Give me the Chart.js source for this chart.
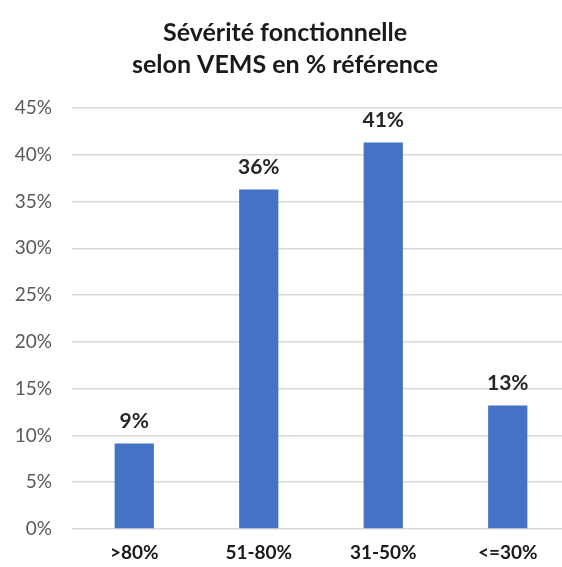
<!DOCTYPE html>
<html>
<head>
<meta charset="utf-8">
<script src="https://cdn.jsdelivr.net/npm/chart.js@4/dist/chart.umd.min.js"></script>
<style>
  html, body { margin: 0; padding: 0; background: #fff; overflow: hidden; }
  #wrap { width: 572px; height: 567px; }
</style>
</head>
<body>
<div id="wrap"><canvas id="grafico"></canvas></div>
<script>
const categorias = [">80%", "51-80%", "31-50%", "<=30%"];
const valores = [9.15, 36.3, 41.3, 13.2];
const etiquetas = ["9%", "36%", "41%", "13%"];
const titulo = ["Sévérité fonctionnelle", "selon VEMS en % référence"];

const fuente = "Lato, 'Liberation Sans', sans-serif";

// etiquetas encima de cada barra
const etiquetasBarras = {
  id: "etiquetasBarras",
  afterDatasetsDraw(chart) {
    const ctx = chart.ctx;
    const meta = chart.getDatasetMeta(0);
    ctx.save();
    ctx.font = "bold 21px " + fuente;
    ctx.fillStyle = "#262626";
    ctx.textAlign = "center";
    ctx.textBaseline = "middle";
    meta.data.forEach((bar, i) => {
      ctx.fillText(etiquetas[i], bar.x, bar.y - 22);
    });
    ctx.restore();
  }
};

new Chart(document.getElementById("grafico"), {
  type: "bar",
  data: {
    labels: categorias,
    datasets: [{
      data: valores,
      backgroundColor: "#4472C4",
      borderWidth: 0,
      barPercentage: 0.315,
      categoryPercentage: 1
    }]
  },
  options: {
    responsive: true,
    maintainAspectRatio: false,
    animation: false,
    layout: { padding: { left: 0, right: 2, top: 0, bottom: 0 } },
    plugins: {
      legend: { display: false },
      tooltip: { enabled: false },
      title: {
        display: true,
        text: titulo,
        color: "#1a1a1a",
        font: { family: fuente, size: 25, weight: "bold", lineHeight: 1.28 },
        padding: { top: 17, bottom: 27 }
      }
    },
    scales: {
      x: {
        grid: { display: false, drawTicks: false },
        border: { display: false },
        afterFit: (eje) => { eje.height = 38; },
        ticks: {
          color: "#1a1a1a",
          padding: 12.6,
          font: { family: fuente, size: 19, weight: "bold" }
        }
      },
      y: {
        min: 0,
        max: 45,
        grid: { color: "#d9d9d9", lineWidth: 1.5, drawTicks: false },
        border: { display: false },
        afterFit: (eje) => { eje.width = 72; },
        ticks: {
          stepSize: 5,
          color: "#595959",
          padding: 20,
          font: { family: fuente, size: 19 },
          callback: (v) => v + "%"
        }
      }
    }
  },
  plugins: [etiquetasBarras]
});
</script>
</body>
</html>
